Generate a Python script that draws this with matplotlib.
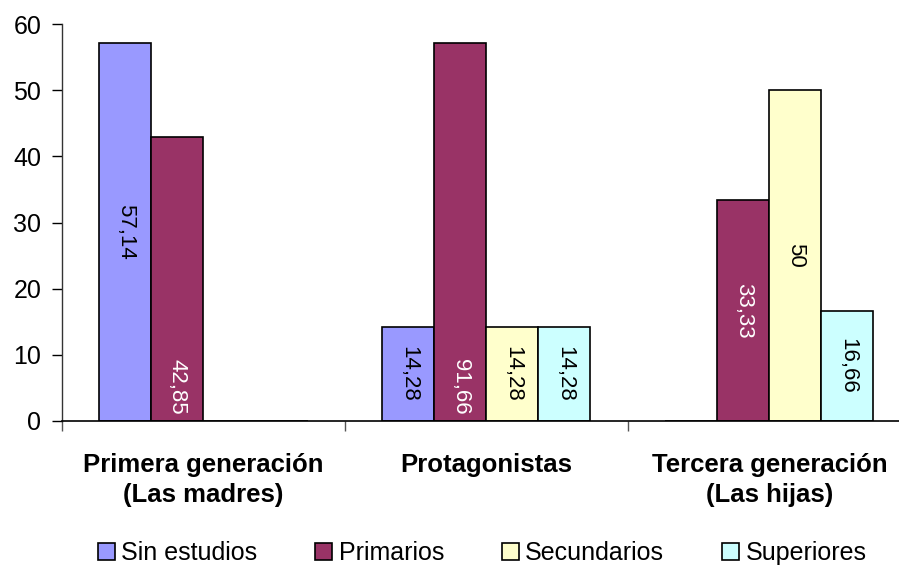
import matplotlib
matplotlib.use("Agg")
import matplotlib.pyplot as plt
import numpy as np

# ---- data ----
categories = ["Primera generación\n(Las madres)", "Protagonistas", "Tercera generación\n(Las hijas)"]
series = ["Sin estudios", "Primarios", "Secundarios", "Superiores"]
sin_estudios = [57.14, 14.28, 0]
primarios = [42.85, 57.14, 33.33]
secundarios = [0, 14.28, 50]
superiores = [0, 14.28, 16.66]
# data-label texts as printed on the bars ("" = no label)
lbl_sin_estudios = ["57,14", "14,28", ""]
lbl_primarios = ["42,85", "91,66", "33,33"]
lbl_secundarios = ["", "14,28", "50"]
lbl_superiores = ["", "14,28", "16,66"]
yticks = [0, 10, 20, 30, 40, 50, 60]

values = [sin_estudios, primarios, secundarios, superiores]
labels = [lbl_sin_estudios, lbl_primarios, lbl_secundarios, lbl_superiores]

# ---- style ----
colors = ["#9999FF", "#993366", "#FFFFCC", "#CCFFFF"]
text_colors = ["black", "white", "black", "black"]
# labels that sit near the bar base instead of the middle: (series, category) -> y
label_low = {(1, 0): 5.1, (1, 1): 5.1}

plt.rcParams["font.family"] = ["Liberation Sans", "DejaVu Sans"]

fig = plt.figure(figsize=(8.99, 5.67), dpi=100)
ax = fig.add_axes([62 / 899, 146 / 567, 849 / 899, 397 / 567])

x = np.arange(len(categories))
bw = 52 / 283
for i, (vals, col) in enumerate(zip(values, colors)):
    pos = x + (i - 1.5) * bw
    ax.bar(pos, vals, width=bw, color=col, edgecolor="black", linewidth=1.2,
           label=series[i], zorder=2)
    for j, (p, v) in enumerate(zip(pos, vals)):
        t = labels[i][j]
        if not t:
            continue
        y = label_low.get((i, j), v / 2)
        ax.text(p, y, t, rotation=270, ha="center", va="center",
                fontsize=16, color=text_colors[i], zorder=3)

ax.set_xlim(-0.5, len(categories) - 0.5)
ax.set_ylim(0, 60)
ax.set_yticks(yticks)
ax.tick_params(axis="y", labelsize=18, length=7, width=1, direction="out", pad=8, colors="black")
ax.set_xticks(x)
ax.set_xticklabels(categories, fontsize=18.5, fontweight="bold", linespacing=1.3)
ax.tick_params(axis="x", which="major", length=0, pad=23)
ax.set_xticks(np.arange(-0.5, len(categories) + 0.5, 1), minor=True)
ax.tick_params(axis="x", which="minor", length=7, width=1, direction="out", color="#555555")

for s in ["top", "right"]:
    ax.spines[s].set_visible(False)
ax.spines["left"].set_color("#333333")
ax.spines["bottom"].set_color("black")
ax.spines["left"].set_linewidth(1)
ax.spines["bottom"].set_linewidth(1.2)

leg = fig.legend(loc="center", bbox_to_anchor=(482 / 899, 1 - 553 / 567), ncol=4,
                 frameon=False, fontsize=18, handlelength=0.7, handleheight=0.7,
                 handletextpad=0.25, columnspacing=2.3, borderaxespad=0)

fig.savefig("out.png", dpi=100)
